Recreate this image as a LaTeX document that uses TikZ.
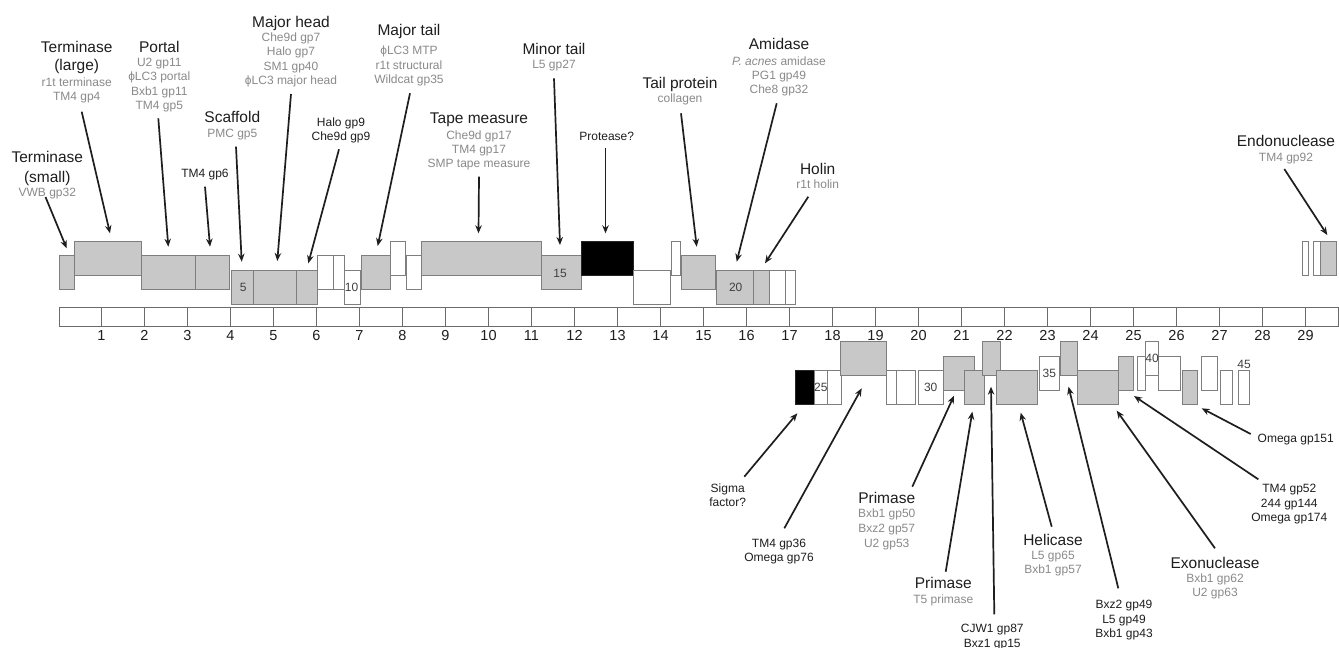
\documentclass[tikz,border=0pt]{standalone}
\usepackage{fontspec}
\setmainfont{Liberation Sans}
\usetikzlibrary{arrows.meta}
\definecolor{gfill}{HTML}{C8C8C8}
\definecolor{gline}{HTML}{7E7E7E}
\definecolor{subc}{HTML}{8A8A8A}
\definecolor{blkc}{HTML}{1E1E1E}
\newcommand{\gn}[5]{\node[#2, minimum width={(#4-#3)*1pt}] (#1) at (#3,#5) {};}
\tikzset{
  gene/.style={draw=gline, line width=0.9pt, anchor=north west, inner sep=0pt, outer sep=0pt},
  gg/.style={gene, fill=gfill},
  gw/.style={gene, fill=white},
  gk/.style={gene, fill=black, draw=black!85},
  up/.style={minimum height=34.5pt},
  dn/.style={minimum height=34pt},
  ttl/.style={font=\fontsize{15.5}{17}\selectfont, text=blkc, anchor=base, yshift=-5.5pt, inner sep=0pt},
  sub/.style={font=\fontsize{12}{14}\selectfont, text=subc, anchor=base, yshift=-4.3pt, inner sep=0pt},
  blk/.style={font=\fontsize{12}{14}\selectfont, text=blkc, anchor=base, yshift=-4.3pt, inner sep=0pt},
  num/.style={font=\fontsize{12}{14}\selectfont, text=blkc!85, anchor=base, yshift=-4.3pt, inner sep=0pt},
  axn/.style={font=\fontsize{14.5}{16}\selectfont, text=blkc, anchor=base, yshift=-5.2pt, inner sep=0pt},
  arr/.style={line width=1.7pt, draw=blkc, -{Stealth[length=8pt,width=6.5pt]}},
}
\begin{document}
\begin{tikzpicture}[x=1pt,y=-1pt]
\useasboundingbox[fill=white] (0,0) rectangle (1339,648);

% ---------------- ruler ----------------
\node[draw=gline!85!black, line width=1pt, fill=white, anchor=north west, inner sep=0pt,
      minimum width=1279pt, minimum height=19pt] (ruler) at (58.5,307) {};
\foreach \k in {1,...,29}{
  \draw[gline!85!black, line width=0.9pt] (58.5+43*\k,307) -- (58.5+43*\k,326);
  \node[axn] (ax\k) at (58.5+43*\k,335) {\k};
}

% ---------------- forward genes ----------------
\gn{g1}{gg,up}{59}{74.3}{255}
\gn{g2}{gg,up}{74.3}{141.5}{241}
\gn{g3}{gg,up}{141.5}{195.7}{255}
\gn{g4}{gg,up}{195.7}{229}{255}
\gn{g5}{gg,up}{231.7}{253.3}{270}
\gn{g6}{gg,up}{253.3}{296}{270}
\gn{g7}{gg,up}{296}{317.7}{270}
\gn{g8}{gw,up}{317.7}{333.3}{255}
\gn{g9}{gw,up}{333.3}{344.3}{255}
\gn{g10}{gw,up}{344.3}{360}{270}
\gn{g11}{gg,up}{361}{390}{255}
\gn{g12}{gw,up}{390}{405}{241}
\gn{g13}{gw,up}{406}{421.7}{255}
\gn{g14}{gg,up}{421.7}{541.7}{241}
\gn{g15}{gg,up}{541.7}{581}{255}
\gn{g16}{gk,up}{581}{633.3}{241}
\gn{g17}{gw,up}{633.3}{670}{270}
\gn{g18}{gw,up}{671.7}{680}{241}
\gn{g19}{gg,up}{681.7}{715}{255}
\gn{g20}{gg,up}{716.7}{753.3}{270}
\gn{g21}{gg,up}{753.3}{769.3}{270}
\gn{g22}{gw,up}{769.3}{785.7}{270}
\gn{g23}{gw,up}{785.7}{795}{270}
\gn{g24}{gw,up}{1302.3}{1308.3}{241}
\gn{g25}{gw,up}{1313.3}{1320.7}{241}
\gn{g26}{gg,up}{1320.7}{1336}{241}

% ---------------- reverse genes ----------------
\gn{r1}{gk,dn}{795.7}{814}{370.7}
\gn{r2}{gw,dn}{814}{827.7}{370.7}
\gn{r3}{gw,dn}{827.7}{841}{370.7}
\gn{r4}{gg,dn}{840}{886.7}{341.7}
\gn{r5}{gw,dn}{886.7}{896}{370.7}
\gn{r6}{gw,dn}{896}{915}{370.7}
\gn{r7}{gw,dn}{918.3}{943.3}{370.7}
\gn{r8}{gg,dn}{943.3}{974.3}{356}
\gn{r9}{gg,dn}{964.3}{984.3}{370.7}
\gn{r10}{gg,dn}{982.3}{1000}{341.7}
\gn{r11}{gg,dn}{996.7}{1037.7}{370.7}
\gn{r12}{gw,dn}{1039.3}{1059.3}{356}
\gn{r13}{gg,dn}{1060.5}{1077.3}{341.7}
\gn{r14}{gg,dn}{1077.3}{1118.3}{370.7}
\gn{r15}{gg,dn}{1118.3}{1133.3}{356}
\gn{r16}{gw,dn}{1137.3}{1145.7}{356}
\gn{r17}{gw,dn}{1145.7}{1158.3}{341.7}
\gn{r18}{gw,dn}{1158.3}{1180}{356}
\gn{r19}{gg,dn}{1182.7}{1197.7}{370.7}
\gn{r20}{gw,dn}{1201.7}{1217.3}{356}
\gn{r21}{gw,dn}{1220}{1232.3}{370.7}
\gn{r22}{gw,dn}{1238.5}{1249}{370.7}

% gene numbers
\node[num] (n5)  at (243.3,286.7) {5};
\node[num] (n10) at (351.5,287.3) {10};
\node[num] (n15) at (560,273.3) {15};
\node[num] (n20) at (735.7,287.3) {20};
\node[num] (n25) at (820.8,387.3) {25};
\node[num] (n30) at (930.7,387.3) {30};
\node[num] (n35) at (1049.3,372.7) {35};
\node[num] (n40) at (1152,358.3) {40};
\node[num] (n45) at (1244,364) {45};

% ---------------- upper labels ----------------
\node[ttl] (ts1) at (47.3,156.7) {Terminase};
\node[ttl] (ts2) at (47.3,176.7) {(small)};
\node[sub] (ts3) at (47.3,191.7) {VWB gp32};

\node[ttl] (tl1) at (76.7,46.7) {Terminase};
\node[ttl] (tl2) at (76.7,65) {(large)};
\node[sub] (tl3) at (76.7,81.7) {r1t terminase};
\node[sub] (tl4) at (76.7,95.7) {TM4 gp4};

\node[ttl] (po1) at (159.3,46.7) {Portal};
\node[sub] (po2) at (159.3,61.7) {U2 gp11};
\node[sub] (po3) at (159.3,76) {ϕLC3 portal};
\node[sub] (po4) at (159.3,90.7) {Bxb1 gp11};
\node[sub] (po5) at (159.3,105) {TM4 gp5};

\node[blk] (tm6) at (205,173.3) {TM4 gp6};

\node[ttl] (sc1) at (232.3,117.3) {Scaffold};
\node[sub] (sc2) at (232.3,132.7) {PMC gp5};

\node[ttl] (mh1) at (291,21.7) {Major head};
\node[sub] (mh2) at (291,36.7) {Che9d gp7};
\node[sub] (mh3) at (291,51) {Halo gp7};
\node[sub] (mh4) at (291,65.7) {SM1 gp40};
\node[sub] (mh5) at (291,80) {ϕLC3 major head};

\node[blk] (hg1) at (341,121.7) {Halo gp9};
\node[blk] (hg2) at (341,136) {Che9d gp9};

\node[ttl] (mt1) at (409,30) {Major tail};
\node[sub] (mt2) at (409,50) {ϕLC3 MTP};
\node[sub] (mt3) at (409,65) {r1t structural};
\node[sub] (mt4) at (409,79.3) {Wildcat gp35};

\node[ttl] (tp1) at (479,118.3) {Tape measure};
\node[sub] (tp2) at (479,135) {Che9d gp17};
\node[sub] (tp3) at (479,149.3) {TM4 gp17};
\node[sub] (tp4) at (479,163.3) {SMP tape measure};

\node[ttl] (mi1) at (554,49) {Minor tail};
\node[sub] (mi2) at (554,64.3) {L5 gp27};

\node[blk] (pr) at (606.7,136) {Protease?};

\node[ttl] (tai1) at (680,82.7) {Tail protein};
\node[sub] (tai2) at (680,98.3) {collagen};

\node[ttl] (am1) at (779,44.3) {Amidase};
\node[sub] (am2) at (779,61) {\textit{P. acnes} amidase};
\node[sub] (am3) at (779,75) {PG1 gp49};
\node[sub] (am4) at (779,89.3) {Che8 gp32};

\node[ttl] (ho1) at (817.7,169.3) {Holin};
\node[sub] (ho2) at (817.7,184.3) {r1t holin};

\node[ttl] (en1) at (1286,141) {Endonuclease};
\node[sub] (en2) at (1286,156.7) {TM4 gp92};

% ---------------- lower labels ----------------
\node[blk] (sg1) at (727.7,488.3) {Sigma};
\node[blk] (sg2) at (727.7,501.7) {factor?};

\node[blk] (t36a) at (779,542.7) {TM4 gp36};
\node[blk] (t36b) at (779,556.7) {Omega gp76};

\node[ttl] (pa1) at (886.7,498.3) {Primase};
\node[sub] (pa2) at (886.7,513.3) {Bxb1 gp50};
\node[sub] (pa3) at (886.7,527.7) {Bxz2 gp57};
\node[sub] (pa4) at (886.7,542.7) {U2 gp53};

\node[ttl] (pb1) at (943.3,583.3) {Primase};
\node[sub] (pb2) at (943.3,599.3) {T5 primase};

\node[blk] (cj1) at (992.3,628.3) {CJW1 gp87};
\node[blk] (cj2) at (992.3,642.7) {Bxz1 gp15};

\node[ttl] (he1) at (1053,540) {Helicase};
\node[sub] (he2) at (1053,555) {L5 gp65};
\node[sub] (he3) at (1053,569.3) {Bxb1 gp57};

\node[blk] (bz1) at (1124,604.3) {Bxz2 gp49};
\node[blk] (bz2) at (1124,619.3) {L5 gp49};
\node[blk] (bz3) at (1124,633.3) {Bxb1 gp43};

\node[ttl] (ex1) at (1215,562.7) {Exonuclease};
\node[sub] (ex2) at (1215,577.7) {Bxb1 gp62};
\node[sub] (ex3) at (1215,592.3) {U2 gp63};

\node[blk] (t52a) at (1289.3,488.3) {TM4 gp52};
\node[blk] (t52b) at (1289.3,502.7) {244 gp144};
\node[blk] (t52c) at (1289.3,516.7) {Omega gp174};

\node[blk] (o151) at (1295.7,438.3) {Omega gp151};

% ---------------- arrows ----------------
\coordinate (a1s) at (45.5,197);    \coordinate (a1e) at (66.7,248.3);
\coordinate (a2s) at (81.7,111.7);  \coordinate (a2e) at (110,233.3);
\coordinate (a3s) at (158.3,118.3); \coordinate (a3e) at (168.3,246.7);
\coordinate (a4s) at (205,186.7);   \coordinate (a4e) at (210,246.7);
\coordinate (a5s) at (236,146.7);   \coordinate (a5e) at (241.7,261.7);
\coordinate (a6s) at (291,94);      \coordinate (a6e) at (277.3,261);
\coordinate (a7s) at (339,149.3);   \coordinate (a7e) at (308.3,263.3);
\coordinate (a8s) at (410,93.3);    \coordinate (a8e) at (377.7,246);
\coordinate (a9s) at (479,176.7);   \coordinate (a9e) at (478.5,233.3);
\coordinate (a10s) at (554,78.3);   \coordinate (a10e) at (560,245);
\coordinate (a11s) at (605.5,148.3); \coordinate (a11e) at (605.5,233.3);
\coordinate (a12s) at (681,113.3);  \coordinate (a12e) at (696.7,246.7);
\coordinate (a13s) at (776.7,103.3); \coordinate (a13e) at (736.7,261.7);
\coordinate (a14s) at (808.3,196.7); \coordinate (a14e) at (765,263.3);
\coordinate (a15s) at (1284.3,169); \coordinate (a15e) at (1327.3,235);
\foreach \i in {1,...,15}{ \draw[arr] (a\i s) -- (a\i e); }

\coordinate (b1s) at (744.3,476.7);  \coordinate (b1e) at (797.3,413.3);
\coordinate (b2s) at (784.3,528.3);  \coordinate (b2e) at (861.7,388.3);
\coordinate (b3s) at (912.3,486.7);  \coordinate (b3e) at (954,395.7);
\coordinate (b4s) at (945.7,571.7);  \coordinate (b4e) at (972.3,411.7);
\coordinate (b5s) at (994.3,614.3);  \coordinate (b5e) at (991,386.7);
\coordinate (b6s) at (1051.7,526.7); \coordinate (b6e) at (1020.7,412.7);
\coordinate (b7s) at (1118.3,588.3); \coordinate (b7e) at (1068.5,386.7);
\coordinate (b8s) at (1215,548.3);   \coordinate (b8e) at (1116.7,410.7);
\coordinate (b9s) at (1258.3,479.3); \coordinate (b9e) at (1134,396);
\coordinate (b10s) at (1250.7,434);  \coordinate (b10e) at (1201.7,408.3);
\foreach \i in {1,...,10}{ \draw[arr] (b\i s) -- (b\i e); }
\end{tikzpicture}
\end{document}
